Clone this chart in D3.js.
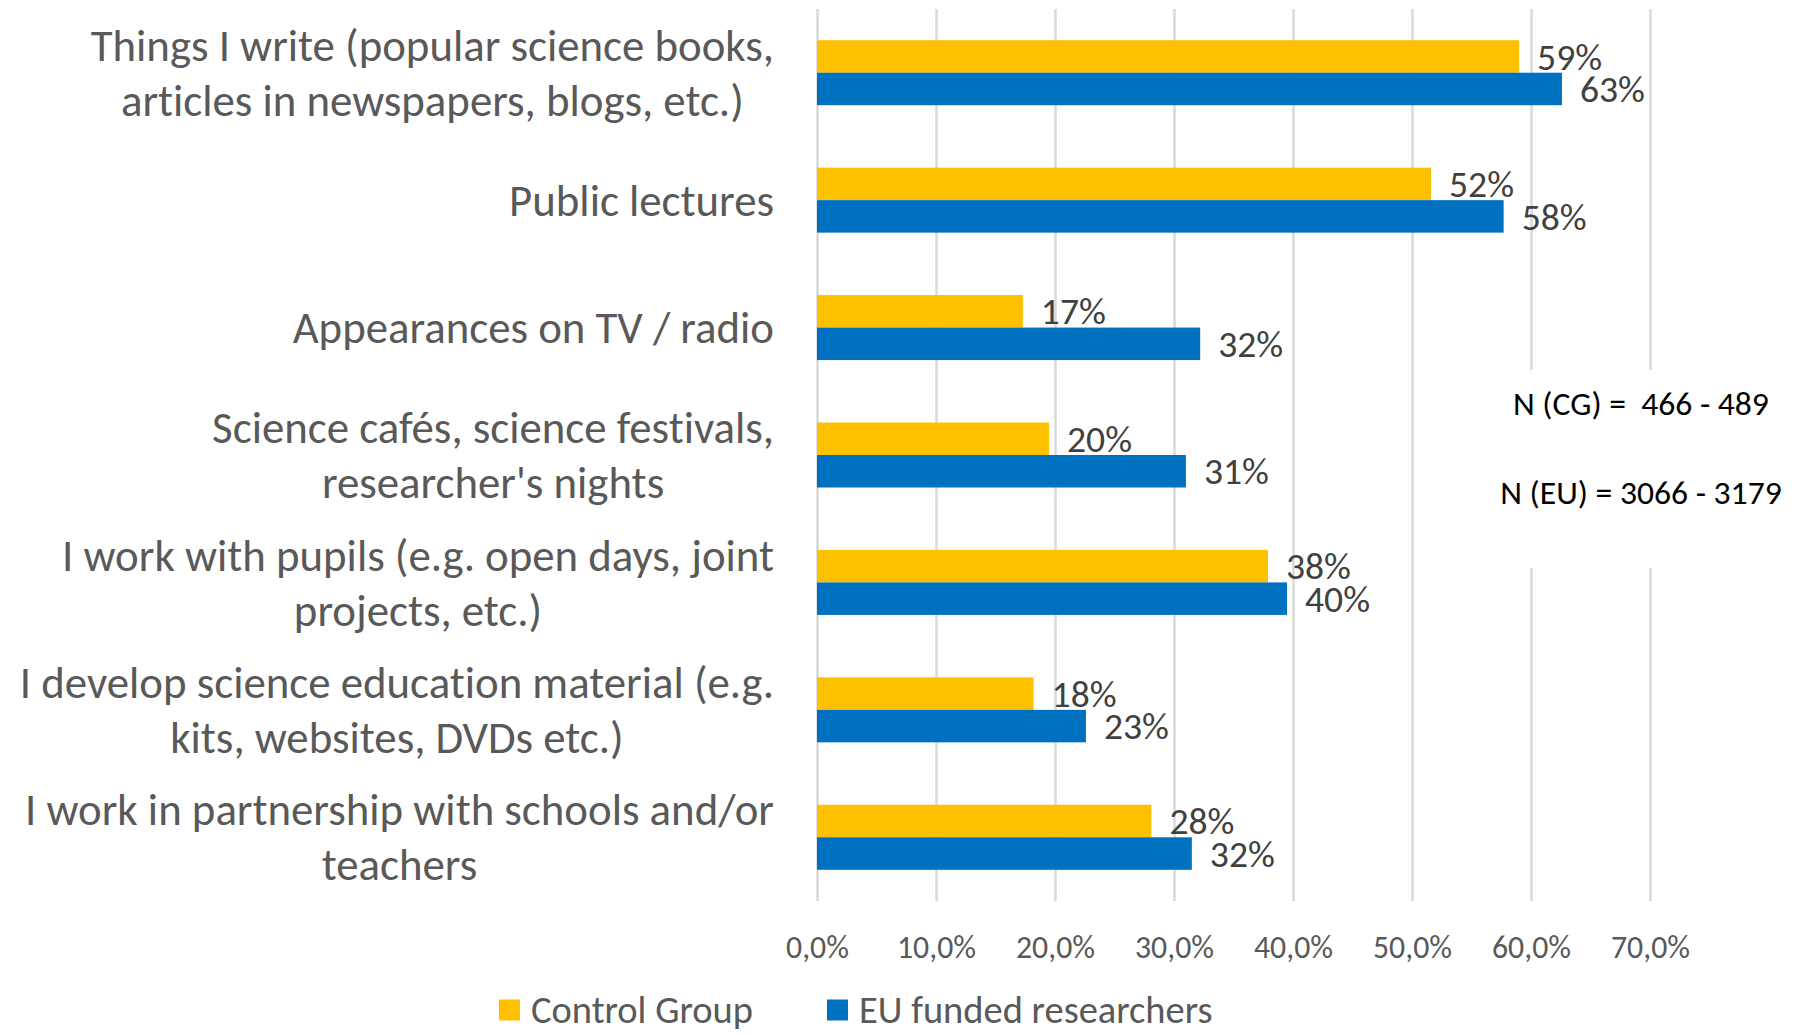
<!DOCTYPE html>
<html>
<head>
<meta charset="utf-8">
<script src="https://cdn.jsdelivr.net/npm/d3@7"></script>
<style>
  html, body { margin: 0; padding: 0; background: #ffffff; }
  svg { display: block; }
  text { font-variant-ligatures: none; font-feature-settings: "liga" 0; }
</style>
</head>
<body>
<svg id="chart" width="1800" height="1035"></svg>
<script>
// ---- data ----
const categories = [
  ["Things I write (popular science books,", "articles in newspapers, blogs, etc.)"],
  ["Public lectures"],
  ["Appearances on TV / radio"],
  ["Science cafés, science festivals,", "researcher's nights"],
  ["I work with pupils (e.g. open days, joint", "projects, etc.)"],
  ["I develop science education material (e.g.", "kits, websites, DVDs etc.)"],
  ["I work in partnership with schools and/or", "teachers"]
];
const seriesNames = ["Control Group", "EU funded researchers"];
const controlGroup = [59.0, 51.6, 17.3, 19.5, 37.9, 18.2, 28.1];
const euFunded = [62.6, 57.7, 32.2, 31.0, 39.5, 22.6, 31.5];
const tickValues = [0, 10, 20, 30, 40, 50, 60, 70];
const noteLines = ["N (CG) =  466 - 489", "N (EU) = 3066 - 3179"];
const colors = ["#FFC000", "#0070C0"];

// ---- setup ----
const svg = d3.select("#chart");
const FONT = "Carlito, Calibri, Lato, 'Open Sans', sans-serif";

function measure(str, size) {
  const t = svg.append("text").style("font-family", FONT).style("font-size", size + "px")
    .style("white-space", "pre").text(str);
  const w = t.node().getComputedTextLength();
  t.remove();
  return w;
}
function fitSize(str, target) { return 100 * target / measure(str, 100); }

const catSize = fitSize("Public lectures", 265);
const tickSize = fitSize("10,0%", 79);
const labelSize = fitSize("32%", 65);
const legendSize = fitSize("Control Group", 222);
const noteSize = fitSize("N (CG) =  466 - 489", 256);

const plotTop = 9, plotBottom = 901;
const x = d3.scaleLinear().domain([0, 70]).range([817, 1650]);
const idx = d3.range(categories.length);
const y = d3.scaleBand().domain(idx).range([plotTop, plotBottom]).paddingInner(0.49).paddingOuter(0.245);
const y1 = d3.scaleBand().domain([0, 1]).range([0, y.bandwidth()]);

const locale = d3.formatLocale({decimal: ",", thousands: ".", grouping: [3], currency: ["", "€"]});
const tickFmt = v => locale.format(".1f")(v) + "%";

// gridlines + tick labels
const axis = d3.axisBottom(x).tickValues(tickValues).tickFormat(tickFmt)
  .tickSize(-(plotBottom - plotTop)).tickPadding(34);
const ax = svg.append("g").attr("transform", `translate(0,${plotBottom})`).call(axis);
ax.select(".domain").remove();
ax.selectAll(".tick line").attr("stroke", "#d9d9d9").attr("stroke-width", 2.5);
ax.selectAll(".tick text").attr("fill", "#595959")
  .style("font-family", FONT).style("font-size", tickSize + "px");

// bars
const data = idx.map(i => [controlGroup[i], euFunded[i]]);
const groups = svg.append("g").selectAll("g").data(data).join("g")
  .attr("transform", (d, i) => `translate(0,${y(i)})`);
groups.selectAll("rect").data(d => d).join("rect")
  .attr("x", x(0))
  .attr("y", (d, j) => y1(j))
  .attr("width", d => x(d) - x(0))
  .attr("height", y1.bandwidth())
  .attr("fill", (d, j) => colors[j]);
groups.selectAll("text").data(d => d).join("text")
  .attr("x", d => x(d) + 18)
  .attr("y", (d, j) => y1(j) + y1.bandwidth() / 2)
  .attr("dy", "0.35em")
  .attr("fill", "#404040")
  .style("font-family", FONT).style("font-size", labelSize + "px")
  .text(d => Math.round(d) + "%");

// category labels: lines centred on each other, block right-aligned
const lineH = 55, labelRight = 774;
const catG = svg.append("g").selectAll("text").data(categories).join("text")
  .attr("text-anchor", "middle")
  .attr("fill", "#595959")
  .style("font-family", FONT).style("font-size", catSize + "px");
catG.each(function(lines, i) {
  const cy = y(i) + y.bandwidth() / 2;
  const maxW = d3.max(lines, ln => measure(ln, catSize));
  const cx = labelRight - maxW / 2;
  const t = d3.select(this);
  lines.forEach((ln, k) => {
    t.append("tspan").attr("x", cx)
      .attr("y", cy + (k - (lines.length - 1) / 2) * lineH)
      .attr("dy", "0.35em").text(ln);
  });
});

// note box
svg.append("rect").attr("x", 1490).attr("y", 370).attr("width", 310).attr("height", 198).attr("fill", "#ffffff");
svg.append("g").selectAll("text").data(noteLines).join("text")
  .attr("x", 1641).attr("y", (d, i) => 403 + i * 89).attr("dy", "0.35em")
  .attr("text-anchor", "middle").attr("fill", "#000000")
  .style("font-family", FONT).style("font-size", noteSize + "px")
  .style("white-space", "pre")
  .text(d => d);

// legend
const legendX = [499, 827];
const lg = svg.append("g").selectAll("g").data(seriesNames).join("g")
  .attr("transform", (d, i) => `translate(${legendX[i]},1010)`);
lg.append("rect").attr("x", 0).attr("y", -10.5).attr("width", 21).attr("height", 21)
  .attr("fill", (d, i) => colors[i]);
lg.append("text").attr("x", 32).attr("dy", "0.35em").attr("fill", "#595959")
  .style("font-family", FONT).style("font-size", legendSize + "px").text(d => d);
</script>
</body>
</html>
